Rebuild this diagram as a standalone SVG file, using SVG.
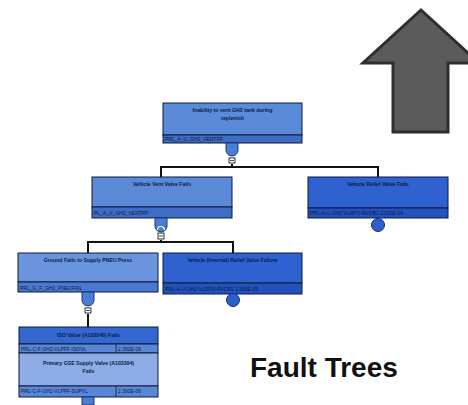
<svg xmlns="http://www.w3.org/2000/svg" width="468" height="405" viewBox="0 0 468 405">
  <defs>
    <style>
      .box { stroke: #0d1a3a; stroke-width: 1; }
      .gate { fill: #4a7fd6; stroke: #1a3470; stroke-width: 1; }
      .event { fill: #2d5fcc; stroke: #162f73; stroke-width: 1; }
      .sym { fill: #ffffff; stroke: #000000; stroke-width: 0.8; }
      .wire { fill: none; stroke: #111111; stroke-width: 2; }
      .t { font-family: "Liberation Sans", Arial, sans-serif; font-size: 5.2px; font-weight: bold; fill: #0b1a44; }
      .c { text-anchor: middle; }
      .id { font-family: "Liberation Sans", Arial, sans-serif; font-size: 5px; fill: #0b1a44; }
    </style>
  </defs>
  <rect width="468" height="405" fill="#ffffff"/>

  <!-- direction arrow -->
  <polygon points="421,10 479,63 448,63 448,132 393,132 393,63 363,63" fill="#5b5b5b" stroke="#2e2e2e" stroke-width="3" stroke-linejoin="miter"/>

  <!-- connectors -->
  <g id="connectors">
    <polyline class="wire" points="232,164 232,167 161,167 161,177"/>
    <polyline class="wire" points="232,167 378,167 378,177"/>
    <polyline class="wire" points="161,240 161,242 88,242 88,253"/>
    <polyline class="wire" points="161,242 233,242 233,253"/>
    <polyline class="wire" points="88,314 88,327"/>
  </g>

  <!-- top event -->
  <g id="n-top">
    <rect class="box" x="163" y="103" width="139" height="32" fill="#5a8ad8"/>
    <rect class="box" x="163" y="135" width="139" height="8" fill="#3f6cc4"/>
    <text class="t c" x="232.5" y="112">Inability to vent GH2 tank during</text>
    <text class="t c" x="232.5" y="120">replenish</text>
    <text class="id" x="165" y="141">PRL_A_U_GH2_VENTFP</text>
    <path class="gate" d="M226,143 H238 V150 A6,6 0 0 1 226,150 Z"/>
    <rect class="sym" x="229" y="158" width="6" height="5"/>
    <line x1="230" y1="160.5" x2="234" y2="160.5" stroke="#000" stroke-width="0.7"/>
  </g>

  <!-- vehicle vent valve -->
  <g id="n-vent">
    <rect class="box" x="92" y="177" width="140" height="30" fill="#5a8ad8"/>
    <rect class="box" x="92" y="207" width="140" height="11" fill="#3f6cc4"/>
    <text class="t c" x="162" y="186">Vehicle Vent Valve Fails</text>
    <text class="id" x="94" y="215">PL_A_U_GH2_VENTFP</text>
    <path class="gate" d="M155,218 H167 V226 A6,6 0 0 1 155,226 Z"/>
    <path d="M157.5,230 A3.5,3.5 0 0 1 164.5,230" fill="none" stroke="#ffffff" stroke-width="1.2"/>
    <rect class="sym" x="158" y="233" width="6" height="6"/>
    <line x1="159" y1="236" x2="163" y2="236" stroke="#000" stroke-width="0.7"/>
  </g>

  <!-- vehicle relief valve -->
  <g id="n-relief">
    <rect class="box" x="308" y="177" width="140" height="31" fill="#2f62d0"/>
    <rect class="box" x="308" y="208" width="140" height="10" fill="#2452bc"/>
    <text class="t c" x="378" y="186">Vehicle Relief Valve Fails</text>
    <text class="id" x="310" y="215">PRL-A-U-GH2-VLRFO-RVOB1 2.300E-04</text>
    <circle class="event" cx="378" cy="225" r="6.5"/>
  </g>

  <!-- ground pneumatic supply -->
  <g id="n-ground">
    <rect class="box" x="18" y="253" width="140" height="29" fill="#6a95de"/>
    <rect class="box" x="18" y="282" width="140" height="10" fill="#4b79cf"/>
    <text class="t c" x="88" y="262">Ground Fails to Supply PNEU Press</text>
    <text class="id" x="20" y="290">PRL_G_F_GH2_PNEUFAIL</text>
    <path class="gate" d="M82,292 H94 V300 A6,6 0 0 1 82,300 Z"/>
    <rect class="sym" x="85" y="308" width="6" height="5"/>
    <line x1="86" y1="310.5" x2="90" y2="310.5" stroke="#000" stroke-width="0.7"/>
  </g>

  <!-- internal relief valve -->
  <g id="n-internal">
    <rect class="box" x="163" y="253" width="139" height="30" fill="#2f62d0"/>
    <rect class="box" x="163" y="283" width="139" height="11" fill="#2452bc"/>
    <text class="t c" x="232.5" y="262">Vehicle (Internal) Relief Valve Failure</text>
    <text class="id" x="165" y="291">PRL-A-U-GH2-VLRFO-RVOP2 1.300E-05</text>
    <circle class="event" cx="233" cy="300" r="6.5"/>
  </g>

  <!-- GSE valves -->
  <g id="n-gse">
    <rect class="box" x="19" y="327" width="139" height="17" fill="#3468d0"/>
    <rect class="box" x="19" y="344" width="139" height="9" fill="#5a86d6"/>
    <line x1="116" y1="344" x2="116" y2="353" stroke="#0d1a3a" stroke-width="0.8"/>
    <rect class="box" x="19" y="353" width="139" height="33" fill="#8eace6"/>
    <rect class="box" x="19" y="386" width="139" height="11" fill="#5a86d6"/>
    <line x1="116" y1="386" x2="116" y2="397" stroke="#0d1a3a" stroke-width="0.8"/>
    <text class="t c" x="88.5" y="337">ISO Valve (A102040) Fails</text>
    <text class="id" x="21" y="351">PRL-C-F-GH2-VLPFF-ISOVL</text>
    <text class="id" x="118" y="351">2.392E-06</text>
    <text class="t c" x="88.5" y="365">Primary GSE Supply Valve (A103394)</text>
    <text class="t c" x="88.5" y="373">Fails</text>
    <text class="id" x="21" y="393">PRL-C-F-GH2-VLPFF-SUPVL</text>
    <text class="id" x="118" y="393">2.392E-06</text>
    <path class="gate" d="M82,397 H94 V405 H82 Z"/>
  </g>

  <text x="250" y="377" font-family="Liberation Sans, Arial, sans-serif" font-size="28" font-weight="bold" fill="#111111">Fault Trees</text>
</svg>
